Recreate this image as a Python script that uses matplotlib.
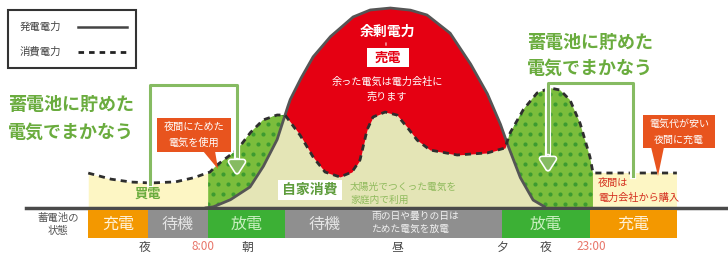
import numpy as np
import matplotlib.pyplot as plt
import matplotlib.patches as mpatches
import matplotlib.patheffects as pe

plt.rcParams['font.family'] = ['Noto Sans CJK JP', 'DejaVu Sans']

# ── data: day-time axis in picture units, power above the baseline ──
gen_x = [205, 213, 230, 250, 263, 277, 285, 290, 300, 313, 330, 353, 370, 390,
         410, 427, 450, 470, 487, 500, 507, 520, 533, 545]
gen_p = [0, 1, 8, 21, 41, 68, 93, 108, 128, 151, 171, 191, 198, 200,
         198, 193, 175, 145, 115, 85, 65, 31, 8, 1]

cons_x = [88, 110, 130, 150, 175, 193, 210, 217, 237, 250, 263, 277, 285, 300,
          313, 325, 340, 352, 360, 367, 373, 385, 397, 407, 417, 430, 457, 487,
          505, 510, 523, 537, 550, 560, 570, 580, 590, 593, 677]
cons_p = [35, 29, 26, 25, 26, 30, 36, 43, 58, 75, 88, 93, 93, 73,
          51, 36, 31, 36, 48, 78, 91, 96, 93, 81, 68, 58, 53, 55,
          60, 75, 98, 115, 120, 118, 108, 85, 51, 35, 35]

legend_labels = ['発電電力', '消費電力']

status_edges = [88, 148, 208, 285, 502, 590, 677]
status_labels = ['充電', '待機', '放電', '待機', '放電', '充電']
status_kind = ['charge', 'idle', 'discharge', 'idle', 'discharge', 'charge']

time_x = [145, 203, 247, 397, 502, 546, 591]
time_labels = ['夜', '8:00', '朝', '昼', '夕', '夜', '23:00']

# colours
RED = '#e50012'
GREEN = '#7bbd3c'
DOT = '#3d9b30'
BEIGE = '#e4e5b6'
YELLOW = '#fdf6c4'
TXT_GREEN = '#6aac3e'
CALLOUT = '#e8541e'
BRACKET = '#86bb62'
status_colors = {'charge': '#f39800', 'idle': '#8f8f8f', 'discharge': '#3cb035'}
status_text = {'charge': '#fff3dc', 'idle': '#e4e4e4', 'discharge': '#c9efc0'}

fig = plt.figure(figsize=(7.28, 2.56), dpi=100)

# chart axes: baseline sits 208 px from the top
ax = fig.add_axes([0, 0, 1, 1])
ax.set_xlim(0, 728)
ax.set_ylim(-48, 208)
ax.axis('off')

xs = np.linspace(80, 690, 2000)
gen = np.interp(xs, gen_x, gen_p, left=0, right=0)
cons = np.interp(xs, cons_x, cons_p)

# bought power (pale yellow)
m = (xs >= 88) & (xs <= 208)
ax.fill_between(xs[m], 0, cons[m], color=YELLOW, lw=0, zorder=1)
m = (xs >= 593) & (xs <= 677)
ax.fill_between(xs[m], 0, cons[m], color=YELLOW, lw=0, zorder=1)

# self consumption (beige)
m = (xs >= 205) & (xs <= 545)
ax.fill_between(xs[m], 0, np.minimum(gen, cons)[m], color=BEIGE, lw=0, zorder=1)

# surplus (red)
m = (xs >= 270) & (xs <= 520)
ax.fill_between(xs[m], cons[m], gen[m], where=gen[m] > cons[m],
                color=RED, lw=0, zorder=2, interpolate=True)


def green_patch(lo, hi):
    m = (xs >= lo) & (xs <= hi) & (cons >= gen)
    x = xs[m]
    verts = np.column_stack([np.r_[x, x[::-1]], np.r_[cons[m], gen[m][::-1]]])
    poly = mpatches.Polygon(verts, closed=True, fc=GREEN, ec='none', zorder=2)
    ax.add_patch(poly)
    gx, gy = [], []
    for j, yy in enumerate(np.arange(4, 130, 10)):
        off = 5 if j % 2 else 0
        for xx in np.arange(lo - 10 + off, hi + 10, 10):
            gx.append(xx)
            gy.append(yy)
    sc = ax.scatter(gx, gy, s=9, c=DOT, lw=0, zorder=3)
    sc.set_clip_path(poly)


green_patch(208, 300)
green_patch(495, 593)

# curves
m = (xs >= 205) & (xs <= 545)
ax.plot(xs[m], gen[m], color='#555555', lw=2, zorder=4, solid_capstyle='round')
m = (xs >= 88) & (xs <= 677)
ax.plot(xs[m], cons[m], color='#2e2e2e', lw=2, ls=(0, (2.2, 1.8)), zorder=5)
ax.plot([26, 728], [0, 0], color='#4a4a4a', lw=2.5, zorder=6)

# overlay in picture pixels for labels
ov = fig.add_axes([0, 0, 1, 1])
ov.set_xlim(0, 728)
ov.set_ylim(256, 0)
ov.axis('off')
ov.patch.set_alpha(0)

# legend box
ov.add_patch(mpatches.Rectangle((8, 10), 128, 58, fc='white', ec='#333333', lw=1.5))
ov.text(20, 27, legend_labels[0], fontsize=7.5, color='#444444', va='center')
ov.text(20, 52, legend_labels[1], fontsize=7.5, color='#444444', va='center')
ov.plot([78, 127], [27, 27], color='#444444', lw=1.8)
ov.plot([78, 127], [52, 52], color='#222222', lw=2, ls=(0, (2, 1.8)))

# big green captions
ov.text(8, 104, '蓄電池に貯めた', fontsize=13, color=TXT_GREEN, weight='bold', va='center')
ov.text(8, 132, '電気でまかなう', fontsize=13, color=TXT_GREEN, weight='bold', va='center')
ov.text(527, 42, '蓄電池に貯めた', fontsize=13, color=TXT_GREEN, weight='bold', va='center')
ov.text(527, 68, '電気でまかなう', fontsize=13, color=TXT_GREEN, weight='bold', va='center')

# bracket arrows
halo = [pe.Stroke(linewidth=4.5, foreground='white'), pe.Normal()]
ov.plot([150, 150, 237, 237], [184, 85, 85, 162], color=BRACKET, lw=2.2, zorder=7,
        path_effects=halo)
ov.annotate('', xy=(237, 177), xytext=(237, 158), zorder=7,
            arrowprops=dict(arrowstyle='-|>,head_length=0.7,head_width=0.45',
                            color=BRACKET, lw=2.2, path_effects=halo))
ov.plot([633, 633, 548, 548], [176, 83, 83, 158], color=BRACKET, lw=2.2, zorder=7,
        path_effects=halo)
ov.annotate('', xy=(548, 174), xytext=(548, 154), zorder=7,
            arrowprops=dict(arrowstyle='-|>,head_length=0.7,head_width=0.45',
                            color=BRACKET, lw=2.2, path_effects=halo))

# callouts
ov.add_patch(mpatches.Rectangle((157, 118), 74, 34, fc=CALLOUT, ec='none', zorder=8))
ov.add_patch(mpatches.Polygon([(203, 151), (215, 151), (218, 169)], fc=CALLOUT, ec='none', zorder=8))
ov.text(194, 127, '夜間にためた', fontsize=7.3, color='white', ha='center', va='center', zorder=9)
ov.text(194, 143, '電気を使用', fontsize=7.3, color='white', ha='center', va='center', zorder=9)
ov.add_patch(mpatches.Rectangle((643, 115), 72, 33, fc=CALLOUT, ec='none', zorder=8))
ov.add_patch(mpatches.Polygon([(651, 147), (664, 147), (658, 176)], fc=CALLOUT, ec='none', zorder=8))
ov.text(679, 124, '電気代が安い', fontsize=7.2, color='white', ha='center', va='center', zorder=9)
ov.text(679, 140, '夜間に充電', fontsize=7.2, color='white', ha='center', va='center', zorder=9)

# surplus text
ov.text(387, 32, '余剰電力', fontsize=10, color='white', weight='bold', ha='center', va='center')
ov.text(387, 43, '=', fontsize=5, color='white', ha='center', va='center', rotation=90)
ov.add_patch(mpatches.Rectangle((367, 48), 42, 19, fc='white', ec='none'))
ov.text(388, 57.5, '売電', fontsize=9.5, color=RED, weight='bold', ha='center', va='center')
ov.text(387, 82, '余った電気は電力会社に', fontsize=7.3, color='white', ha='center', va='center')
ov.text(387, 97, '売ります', fontsize=7.3, color='white', ha='center', va='center')

# area labels
ov.text(148, 194, '買電', fontsize=9.5, color=TXT_GREEN, weight='bold', ha='center', va='center')
ov.add_patch(mpatches.Rectangle((278, 180), 64, 20, fc='white', ec='none'))
ov.text(310, 190, '自家消費', fontsize=10, color='#5e9c3c', weight='bold', ha='center', va='center')
ov.text(350, 187, '太陽光でつくった電気を', fontsize=7, color='#8fba5c', va='center')
ov.text(350, 200, '家庭内で利用', fontsize=7, color='#8fba5c', va='center')
ov.text(598, 183, '夜間は', fontsize=7.3, color='#d42e1e', va='center', zorder=9)
ov.text(598, 198, '電力会社から購入', fontsize=7.3, color='#d42e1e', va='center', zorder=9)

# battery status bar
for i, kind in enumerate(status_kind):
    x0, x1 = status_edges[i], status_edges[i + 1]
    ov.add_patch(mpatches.Rectangle((x0, 210), x1 - x0, 28, fc=status_colors[kind], ec='none'))
    cx = (x0 + x1) / 2
    if i == 3:
        cx = 325
    ov.text(cx, 224, status_labels[i], fontsize=11.5, color=status_text[kind],
            ha='center', va='center')
ov.text(371, 216, '雨の日や曇りの日は', fontsize=7, color='#f2f2f2', va='center')
ov.text(371, 229, 'ためた電気を放電', fontsize=7, color='#f2f2f2', va='center')
ov.text(58, 218, '蓄電池の', fontsize=7.5, color='#555555', ha='center', va='center')
ov.text(58, 231, '状態', fontsize=7.5, color='#555555', ha='center', va='center')

for x, lab in zip(time_x, time_labels):
    col = '#e8766a' if ':' in lab else '#444444'
    ov.text(x, 247, lab, fontsize=8.5, color=col, ha='center', va='center')

fig.savefig('out.png', dpi=100)
